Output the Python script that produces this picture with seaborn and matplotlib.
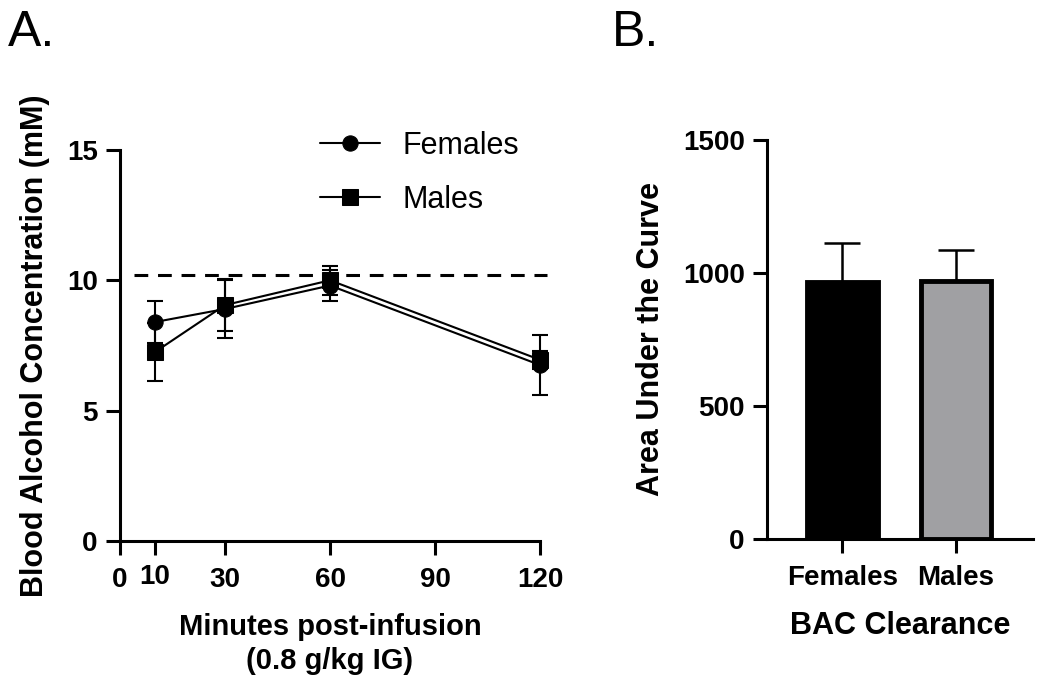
import matplotlib
matplotlib.use("Agg")
import matplotlib.pyplot as plt
import seaborn as sns
import pandas as pd
import numpy as np

# Panel A: BAC time course (mean +/- SEM)
minutes = [10, 30, 60, 120]
fem_bac = [8.4, 8.9, 9.8, 6.75]
fem_sem = [0.8, 1.12, 0.6, 1.15]
male_bac = [7.25, 9.05, 10.0, 6.95]
male_sem = [1.1, 1.0, 0.55, 0.35]
ref_level = 10.2

# Panel B: area under the curve
groups = ["Females", "Males"]
auc_mean = [965, 970]
auc_sem = [148, 115]

sns.set_theme(style="ticks")
plt.rcParams["font.family"] = ["Liberation Sans", "DejaVu Sans"]
plt.rcParams.update({
    "axes.linewidth": 2.2,
    "text.color": "black",
    "axes.labelcolor": "black",
    "xtick.color": "black",
    "ytick.color": "black",
    "axes.edgecolor": "black",
})

fig = plt.figure(figsize=(10.5, 6.94), dpi=100)
ax1 = fig.add_axes([0.1143, 0.2205, 0.4, 0.5634])
ax2 = fig.add_axes([0.7305, 0.2235, 0.2533, 0.5750])

# ---- A. line plot
df = pd.DataFrame({
    "Minutes": minutes * 2,
    "BAC": fem_bac + male_bac,
    "SEM": fem_sem + male_sem,
    "Sex": ["Females"] * len(minutes) + ["Males"] * len(minutes),
})

for sex, sub in df.groupby("Sex"):
    ax1.errorbar(sub["Minutes"], sub["BAC"], yerr=sub["SEM"], fmt="none",
                 ecolor="black", elinewidth=1.5, capsize=5.5, capthick=1.5,
                 zorder=2, clip_on=False)

sns.lineplot(data=df, x="Minutes", y="BAC", style="Sex",
             markers={"Females": "o", "Males": "s"}, dashes=False,
             color="black", markersize=11, linewidth=1.5,
             markeredgecolor="black", ax=ax1, legend=True, zorder=3,
             clip_on=False)

ax1.plot([4, 122], [ref_level, ref_level], color="black", lw=2.2,
         ls=(0, (4.5, 3.2)), clip_on=False, zorder=1)

handles, labels = ax1.get_legend_handles_labels()
keep = [(h, l) for h, l in zip(handles, labels) if l in ("Females", "Males")]
ax1.legend([k[0] for k in keep], [k[1] for k in keep],
           loc="center left", bbox_to_anchor=(0.305, 0.751),
           bbox_transform=fig.transFigure, frameon=False, fontsize=22,
           handlelength=1.95, handletextpad=0.75, labelspacing=0.8,
           borderpad=0, borderaxespad=0)

ax1.set_xlim(0, 120)
ax1.set_ylim(0, 15)
ax1.set_xticks([0, 10, 30, 60, 90, 120])
ax1.set_yticks([0, 5, 10, 15])
ax1.set_xlabel("Minutes post-infusion\n(0.8 g/kg IG)", fontsize=21,
               fontweight="bold", labelpad=14, linespacing=1.3)
ax1.set_ylabel("Blood Alcohol Concentration (mM)", fontsize=22,
               fontweight="bold", labelpad=12)

# ---- B. bar plot
bar_df = pd.DataFrame({"Group": groups, "AUC": auc_mean})
sns.barplot(data=bar_df, x="Group", y="AUC", hue="Group",
            palette=["black", "#a09fa3"], width=0.62, edgecolor="black",
            linewidth=3.5, ax=ax2, legend=False)
ax2.errorbar(np.arange(len(groups)), auc_mean,
             yerr=[np.zeros(len(groups)), auc_sem], fmt="none",
             ecolor="black", elinewidth=1.8, capsize=13, capthick=1.8,
             zorder=0)
ax2.set_xlim(-0.66, 1.675)
ax2.set_ylim(0, 1500)
ax2.set_yticks([0, 500, 1000, 1500])
ax2.set_xlabel("BAC Clearance", fontsize=22, fontweight="bold", labelpad=14)
ax2.set_ylabel("Area Under the Curve", fontsize=22, fontweight="bold",
               labelpad=12)

for ax in (ax1, ax2):
    sns.despine(ax=ax)
    ax.tick_params(axis="both", length=10, width=2.2, color="black",
                   labelsize=20, pad=6)
    ax.tick_params(axis="x", pad=9)
    for lab in ax.get_xticklabels() + ax.get_yticklabels():
        lab.set_fontweight("bold")

# the "10" label sits a little higher than its neighbours
for lab in ax1.get_xticklabels():
    if lab.get_text() == "10":
        lab.set_y(0.008)

fig.text(0.008, 0.985, "A.", fontsize=36, va="top", ha="left")
fig.text(0.583, 0.985, "B.", fontsize=36, va="top", ha="left")

fig.savefig("out.png", dpi=100)
